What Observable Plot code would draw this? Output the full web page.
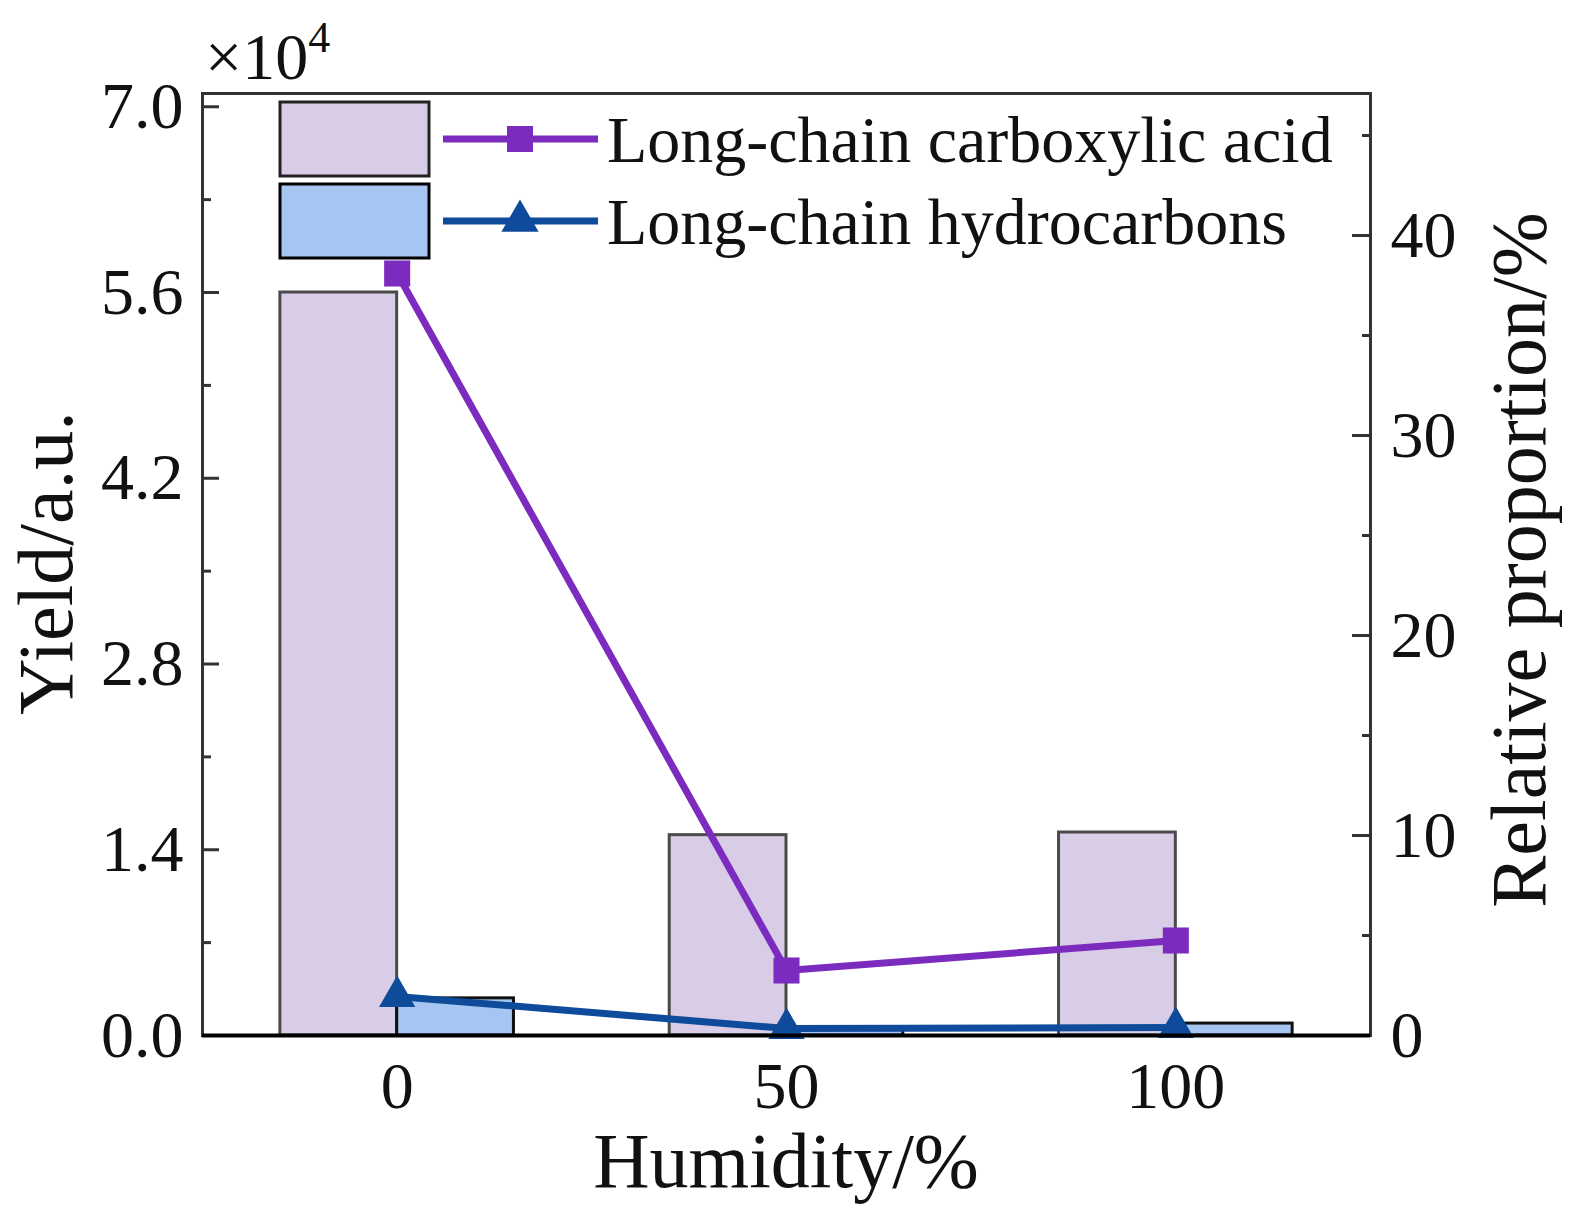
<!DOCTYPE html>
<html><head><meta charset="utf-8">
<script src="https://cdn.jsdelivr.net/npm/d3@7"></script>
<script src="https://cdn.jsdelivr.net/npm/@observablehq/plot@0.6"></script>
<style>
body{margin:0;background:#fff;}
#wrap{position:relative;width:1588px;height:1216px;font-family:"Liberation Serif","Times New Roman",serif;}
#wrap svg{position:absolute;left:0;top:0;}
</style></head><body><div id="wrap"></div>
<script>
// ---- data ----
const humidity = [0, 50, 100];
const acidYield = [5.60, 1.51, 1.53];      // ×10^4 a.u.
const hcYield = [0.28, 0.06, 0.09];        // ×10^4 a.u.
const acidProp = [38.1, 3.25, 4.75];       // %
const hcProp = [1.95, 0.35, 0.40];         // %
const seriesNames = ["Long-chain carboxylic acid", "Long-chain hydrocarbons"];
const leftTicks = [0, 1.4, 2.8, 4.2, 5.6, 7.0];
const leftMinor = [0.7, 2.1, 3.5, 4.9, 6.3];
const rightTicks = [0, 10, 20, 30, 40];
const rightMinor = [5, 15, 25, 35, 45];
const xTicks = [0, 50, 100];

// ---- styles ----
const acidFill = "#d9cce6", hcFill = "#a6c5f1";
const acidLine = "#7b2cbf", hcLine = "#0f4b9b";
const font = `"Liberation Serif","Times New Roman",serif`;
const yMax = 7.1, rMax = 47.1, k = yMax / rMax;
const halfW = 15;

const acidBars = humidity.map((h, i) => ({h, v: acidYield[i]}));
const hcBars = humidity.map((h, i) => ({h, v: hcYield[i]}));
const acidPts = humidity.map((h, i) => ({h, p: acidProp[i]}));
const hcPts = humidity.map((h, i) => ({h, p: hcProp[i]}));

const chart = Plot.plot({
  width: 1588, height: 1216,
  marginLeft: 202, marginRight: 218, marginTop: 93, marginBottom: 181,
  style: {fontFamily: font, fontSize: "66px", color: "#111", background: "transparent"},
  x: {domain: [-25, 125], label: null},
  y: {domain: [0, yMax], label: null},
  marks: [
    Plot.rectY(acidBars, {x1: d => d.h - halfW, x2: d => d.h, y1: 0, y2: "v", fill: acidFill, stroke: "#4a4a4a", strokeWidth: 3}),
    Plot.rectY(hcBars, {x1: d => d.h, x2: d => d.h + halfW, y1: 0, y2: "v", fill: hcFill, stroke: "#111", strokeWidth: 3}),
    Plot.line(acidPts, {x: "h", y: d => d.p * k, stroke: acidLine, strokeWidth: 7}),
    Plot.line(hcPts, {x: "h", y: d => d.p * k, stroke: hcLine, strokeWidth: 7}),
    Plot.dot(acidPts, {x: "h", y: d => d.p * k, symbol: "square", r: 14.7, fill: acidLine, stroke: "none"}),
    Plot.dot(hcPts, {x: "h", y: d => d.p * k, symbol: "triangle", r: 13.5, fill: hcLine, stroke: "none"}),
    // left axis
    Plot.axisY(leftTicks, {anchor: "left", tickSize: -17, strokeWidth: 3, stroke: "#333", text: null, label: null}),
    Plot.axisY(leftMinor, {anchor: "left", tickSize: -9, strokeWidth: 3, stroke: "#333", text: null, label: null}),
    Plot.axisY(leftTicks, {anchor: "left", tickSize: 0, tickPadding: 19, tickFormat: d => d.toFixed(1), fontSize: 66, label: null}),
    // right axis
    Plot.axisY(rightTicks.map(d => d * k), {anchor: "right", tickSize: -19, strokeWidth: 3, stroke: "#333", text: null, label: null}),
    Plot.axisY(rightMinor.map(d => d * k), {anchor: "right", tickSize: -9, strokeWidth: 3, stroke: "#333", text: null, label: null}),
    Plot.axisY(rightTicks.map(d => d * k), {anchor: "right", tickSize: 0, tickPadding: 20, tickFormat: d => String(Math.round(d / k)), fontSize: 66, label: null}),
    // x axis
    Plot.axisX(xTicks, {anchor: "bottom", tickSize: 0, tickPadding: 26, fontSize: 66, label: null}),
    Plot.frame({stroke: "#333", strokeWidth: 3}),
    Plot.ruleY([0], {stroke: "#000", strokeWidth: 4})
  ]
});
document.getElementById("wrap").appendChild(chart);

// ---- titles and legend overlay ----
const ov = d3.select("#wrap").append("svg")
  .attr("width", 1588).attr("height", 1216)
  .style("font-family", font).style("pointer-events", "none");

ov.append("text").attr("transform", "translate(72,563) rotate(-90)")
  .attr("text-anchor", "middle").attr("font-size", 78).attr("fill", "#111").text("Yield/a.u.");
ov.append("text").attr("transform", "translate(1545,560) rotate(-90)")
  .attr("text-anchor", "middle").attr("font-size", 78).attr("fill", "#111").text("Relative proportion/%");
ov.append("text").attr("x", 786).attr("y", 1187)
  .attr("text-anchor", "middle").attr("font-size", 78).attr("fill", "#111").text("Humidity/%");
const mult = ov.append("text").attr("x", 205).attr("y", 79).attr("font-size", 66).attr("fill", "#111");
mult.append("tspan").text("×10");
mult.append("tspan").attr("font-size", 44).attr("dy", -27).text("4");

const legend = [
  {name: seriesNames[0], fill: acidFill, boxStroke: "#222", line: acidLine, sym: d3.symbolSquare, size: 26 * 26, y: 139},
  {name: seriesNames[1], fill: hcFill, boxStroke: "#000", line: hcLine, sym: d3.symbolTriangle, size: 600, y: 221}
];
legend.forEach(L => {
  ov.append("rect").attr("x", 280).attr("y", L.y - 37).attr("width", 149).attr("height", 74)
    .attr("fill", L.fill).attr("stroke", L.boxStroke).attr("stroke-width", 3);
  ov.append("line").attr("x1", 443).attr("x2", 598).attr("y1", L.y).attr("y2", L.y)
    .attr("stroke", L.line).attr("stroke-width", 7);
  ov.append("path").attr("d", d3.symbol(L.sym, L.size)()).attr("transform", `translate(520,${L.y})`)
    .attr("fill", L.line);
  ov.append("text").attr("x", 607).attr("y", L.y + 23).attr("font-size", 66).attr("fill", "#111").text(L.name);
});
</script></body></html>
